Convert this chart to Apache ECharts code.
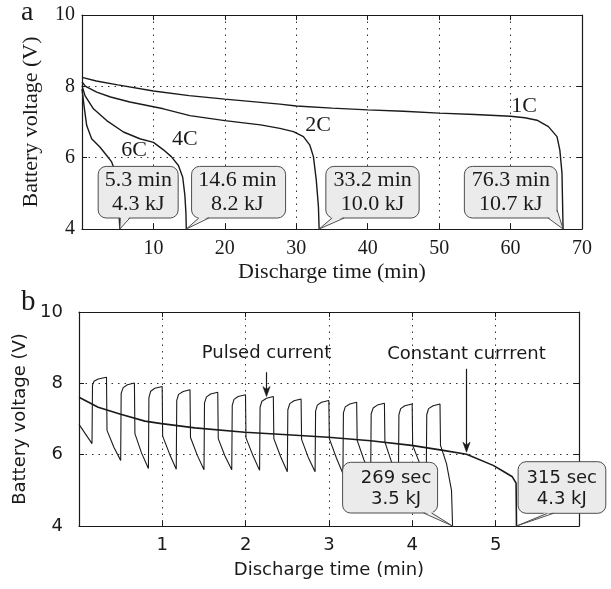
<!DOCTYPE html>
<html>
<head>
<meta charset="utf-8">
<script src="https://cdn.jsdelivr.net/npm/echarts@6/dist/echarts.min.js"></script>
<style>
  html, body { margin: 0; padding: 0; background: #fff; }
  #chart { width: 611px; height: 589px; }
</style>
</head>
<body>
<div id="chart"></div>
<script>
// ---------- Panel a: constant-current discharge at several C-rates ----------
// [time (min), battery voltage (V)]
const curve1C = [[0,8.25],[2,8.15],[5,8.04],[10,7.87],[15,7.74],[20,7.64],[27.7,7.5],[30,7.45],[35,7.39],[40,7.34],[45,7.3],[50,7.25],[55,7.21],[60,7.16],[62,7.12],[63.7,7.05],[65.3,6.87],[66.5,6.59],[66.9,6.21],[67.2,5.56],[67.35,4.0]];
const curve2C = [[0,8.12],[0.5,8.0],[2.06,7.84],[4,7.7],[6.7,7.56],[11.4,7.37],[15.1,7.18],[20,7.04],[25,6.92],[27.7,6.82],[29.6,6.73],[31,6.59],[31.9,6.35],[32.4,6.03],[32.8,5.37],[33.1,4.62],[33.2,4.0]];
const curve4C = [[0,8.02],[0.42,7.74],[1.6,7.37],[3.46,7.04],[5.8,6.72],[8.1,6.53],[10,6.43],[11.4,6.22],[12.5,6.03],[13.5,5.78],[14.1,5.45],[14.4,4.95],[14.55,4.45],[14.6,4.0]];
const curve6C = [[0,7.93],[0.28,7.46],[0.66,6.9],[1.35,6.53],[2.5,6.3],[3.46,6.06],[4.15,5.88],[4.6,5.64],[4.85,5.37],[5.1,4.72],[5.3,4.0]];
const rateNames = ['1C', '2C', '4C', '6C'];
// end of discharge for each rate: [time (min), cut-off voltage (V)]
const endPointsA = [[5.3,4.0],[14.6,4.0],[33.2,4.0],[67.35,4.0]];
const endTextsA = [['5.3 min','4.3 kJ'],['14.6 min','8.2 kJ'],['33.2 min','10.0 kJ'],['76.3 min','10.7 kJ']];
const xTicksA = [0,10,20,30,40,50,60,70];
const yTicks = [4,6,8,10];

// ---------- Panel b: pulsed vs constant current ----------
const constantCurve = [[0,7.61],[0.23,7.33],[0.49,7.14],[0.79,6.94],[0.99,6.87],[1.39,6.75],[1.99,6.63],[2.5,6.56],[2.99,6.49],[3.5,6.39],[3.99,6.26],[4.37,6.12],[4.65,6.01],[4.97,5.7],[5.1,5.52],[5.2,5.38],[5.245,5.2],[5.25,4.0]];
const pulsedCurve = [
  [0,6.85],[0.156,6.31],
  [0.162,7.95],[0.18,8.06],[0.23,8.12],[0.33,8.17],
  [0.336,6.68],[0.42,6.2],[0.5,5.84],
  [0.506,7.72],[0.53,7.88],[0.58,7.96],[0.665,8.01],
  [0.671,6.59],[0.75,6.05],[0.833,5.61],
  [0.839,7.6],[0.86,7.78],[0.91,7.86],[0.998,7.91],
  [1.004,6.52],[1.09,6.0],[1.167,5.59],
  [1.173,7.52],[1.195,7.69],[1.25,7.77],[1.332,7.82],
  [1.338,6.48],[1.42,5.98],[1.5,5.58],
  [1.506,7.45],[1.53,7.62],[1.58,7.7],[1.665,7.75],
  [1.671,6.45],[1.75,5.97],[1.833,5.58],
  [1.839,7.38],[1.86,7.55],[1.91,7.63],[1.998,7.68],
  [2.004,6.47],[2.09,5.96],[2.167,5.56],
  [2.173,7.33],[2.195,7.5],[2.25,7.58],[2.332,7.63],
  [2.338,6.45],[2.42,5.94],[2.5,5.52],
  [2.506,7.26],[2.53,7.43],[2.58,7.51],[2.665,7.56],
  [2.671,6.43],[2.75,5.93],[2.833,5.52],
  [2.839,7.22],[2.86,7.39],[2.91,7.47],[2.998,7.52],
  [3.004,6.45],[3.09,5.9],[3.167,5.47],
  [3.173,7.17],[3.195,7.34],[3.25,7.42],[3.332,7.47],
  [3.338,6.4],[3.42,5.85],[3.5,5.42],
  [3.506,7.14],[3.53,7.31],[3.58,7.39],[3.665,7.44],
  [3.671,6.35],[3.75,5.8],[3.833,5.38],
  [3.839,7.12],[3.86,7.29],[3.91,7.37],[3.998,7.42],
  [4.004,6.26],[4.09,5.75],[4.167,5.35],
  [4.173,7.12],[4.195,7.29],[4.25,7.37],[4.332,7.42],
  [4.338,6.26],[4.41,5.75],[4.47,5.0],[4.483,4.0]
];
const endPointsB = [[4.483,4.0],[5.25,4.0]];
const endTextsB = [['269 sec','3.5 kJ'],['315 sec','4.3 kJ']];
const arrowTipsB = [[2.25,7.63],[4.65,6.07]];
const arrowTextsB = ['Pulsed current', 'Constant currrent'];
const xTicksB = [0,1,2,3,4,5,6];

// ---------- Layout and styling ----------
const SERIF = '"Liberation Serif", "Times New Roman", serif';
const SANS = '"DejaVu Sans", Verdana, sans-serif';
const INK = '#1a1a1a';

// curve label anchors (data units)
const rateLabelPos = [[61.9,7.45],[33.05,6.91],[14.4,6.52],[7.28,6.21]];

// callout geometry in px, relative to the tip: box [x0,y0,x1,y1], tail base points, text centre
const calloutLayoutA = [
  { box: [-21.7,-62.6,58.3,-11], tail: [[0.5,-11],[10,-11]], text: [18.5,-37] },
  { box: [5.3,-62.6,99.3,-11], tail: [[12.6,-11],[22.6,-11]], text: [51,-37] },
  { box: [6.7,-62.6,100,-11], tail: [[13,-11],[25,-11]], text: [53.5,-37] },
  { box: [-98.7,-62.6,-6,-11], tail: [[-15,-11],[-6,-19]], text: [-52.3,-37] }
];
const calloutLayoutB = [
  { box: [-110,-63.7,-15,-13], tail: [[-29,-13],[-21,-13]], text: [-56.5,-37] },
  { box: [1.6,-64.3,89.3,-12.7], tail: [[31,-12.7],[37,-12.7]], text: [45.3,-37] }
];
// arrows: shaft length and text centre above the tip (px)
const arrowLayoutB = [ { len: 24.3, textDy: -43 }, { len: 83.4, textDy: -98 } ];

function calloutRenderer(layouts, texts, fontFamily, fontSize, lineHeight) {
  return function (params, api) {
    const i = params.dataIndex;
    const tip = api.coord([api.value(0), api.value(1)]);
    const L = layouts[i];
    const x0 = tip[0] + L.box[0], y0 = tip[1] + L.box[1];
    const x1 = tip[0] + L.box[2], y1 = tip[1] + L.box[3];
    const a = [tip[0] + L.tail[0][0], tip[1] + L.tail[0][1]];
    const b = [tip[0] + L.tail[1][0], tip[1] + L.tail[1][1]];
    return {
      type: 'group',
      children: [
        { type: 'rect', shape: { x: x0, y: y0, width: x1 - x0, height: y1 - y0, r: 8 },
          style: { fill: '#ebebeb', stroke: '#4d4d4d', lineWidth: 1 } },
        { type: 'polygon', shape: { points: [[a[0], a[1] - 1.5], tip, [b[0] - (b[1] < y1 ? 1.5 : 0), b[1] - 1.5]] },
          style: { fill: '#ebebeb', stroke: null } },
        { type: 'polyline', shape: { points: [a, tip, b] },
          style: { fill: null, stroke: '#4d4d4d', lineWidth: 1 } },
        { type: 'text', style: {
            text: texts[i].join('\n'), x: tip[0] + L.text[0], y: tip[1] + L.text[1],
            align: 'center', verticalAlign: 'middle',
            fontFamily: fontFamily, fontSize: fontSize, lineHeight: lineHeight, fill: INK } }
      ]
    };
  };
}

function arrowRenderer(params, api) {
  const i = params.dataIndex;
  const tip = api.coord([api.value(0), api.value(1)]);
  const L = arrowLayoutB[i];
  return {
    type: 'group',
    children: [
      { type: 'line', shape: { x1: tip[0], y1: tip[1] - L.len, x2: tip[0], y2: tip[1] - 5 },
        style: { stroke: INK, lineWidth: 1.2 } },
      { type: 'polygon', shape: { points: [[tip[0], tip[1]], [tip[0] - 3.6, tip[1] - 10], [tip[0], tip[1] - 7], [tip[0] + 3.6, tip[1] - 10]] },
        style: { fill: INK, stroke: INK, lineWidth: 0.6 } },
      { type: 'text', style: { text: arrowTextsB[i], x: tip[0], y: tip[1] + L.textDy,
          align: 'center', verticalAlign: 'middle', fontFamily: SANS, fontSize: 18, fill: INK } }
    ]
  };
}

function rateLabelRenderer(params, api) {
  const p = api.coord([api.value(0), api.value(1)]);
  return { type: 'text', style: { text: rateNames[params.dataIndex], x: p[0], y: p[1],
    align: 'center', verticalAlign: 'middle', fontFamily: SERIF, fontSize: 22, fill: INK } };
}

const dotted = { show: true, lineStyle: { color: '#333', width: 1, type: [1.5, 5] } };
const tickIn = { show: true, inside: true, length: 5, lineStyle: { color: INK, width: 1 } };
const frame = { show: true, onZero: false, lineStyle: { color: INK, width: 1.2 } };

function xMain(gridIndex, ticks, font, size, name, nameGap, hideLast) {
  return {
    type: 'value', gridIndex: gridIndex, position: 'bottom',
    min: ticks[0], max: ticks[ticks.length - 1], interval: ticks[1] - ticks[0],
    axisLine: frame, axisTick: tickIn, splitLine: dotted,
    axisLabel: { margin: 10, color: INK, fontFamily: font, fontSize: size,
      formatter: v => (v === ticks[0] || (hideLast && v === ticks[ticks.length - 1])) ? '' : String(v) },
    name: name, nameLocation: 'middle', nameGap: nameGap,
    nameTextStyle: { color: INK, fontFamily: font, fontSize: size + (font === SERIF ? 2 : 0) }
  };
}
function xMirror(gridIndex, ticks) {
  return { type: 'value', gridIndex: gridIndex, position: 'top',
    min: ticks[0], max: ticks[ticks.length - 1], interval: ticks[1] - ticks[0],
    axisLine: frame, axisTick: tickIn, axisLabel: { show: false }, splitLine: { show: false } };
}
function yMain(gridIndex, font, size, labelMargin, nameGap) {
  return {
    type: 'value', gridIndex: gridIndex, position: 'left',
    min: yTicks[0], max: yTicks[yTicks.length - 1], interval: yTicks[1] - yTicks[0],
    axisLine: frame, axisTick: tickIn, splitLine: dotted,
    axisLabel: { margin: labelMargin, color: INK, fontFamily: font, fontSize: size },
    name: 'Battery voltage (V)', nameLocation: 'middle', nameGap: nameGap,
    nameTextStyle: { color: INK, fontFamily: font, fontSize: size + (font === SERIF ? 2 : 0) }
  };
}
function yMirror(gridIndex) {
  return { type: 'value', gridIndex: gridIndex, position: 'right',
    min: yTicks[0], max: yTicks[yTicks.length - 1], interval: yTicks[1] - yTicks[0],
    axisLine: frame, axisTick: tickIn, axisLabel: { show: false }, splitLine: { show: false } };
}

function lineSeries(data, xi, yi, width) {
  return { type: 'line', data: data, xAxisIndex: xi, yAxisIndex: yi, showSymbol: false,
    symbol: 'none', smooth: false, clip: true, silent: true, animation: false,
    lineStyle: { color: INK, width: width }, z: 3 };
}

const chart = echarts.init(document.getElementById('chart'), null, { renderer: 'canvas' });
chart.setOption({
  backgroundColor: '#fff',
  animation: false,
  grid: [
    { left: 82, top: 15, width: 500, height: 214 },
    { left: 79, top: 312, width: 500, height: 214 }
  ],
  xAxis: [
    xMain(0, xTicksA, SERIF, 20, 'Discharge time (min)', 32, false),
    xMirror(0, xTicksA),
    xMain(1, xTicksB, SANS, 18, 'Discharge time (min)', 35, true),
    xMirror(1, xTicksB)
  ],
  yAxis: [
    yMain(0, SERIF, 20, 7, 40),
    yMirror(0),
    yMain(1, SANS, 18, 16, 46),
    yMirror(1)
  ],
  graphic: [
    { type: 'text', x: 21, y: 12.5, style: { text: 'a', fontFamily: SERIF, fontSize: 28, fill: INK, verticalAlign: 'middle' } },
    { type: 'text', x: 21, y: 302.5, style: { text: 'b', fontFamily: SERIF, fontSize: 29, fill: INK, verticalAlign: 'middle' } }
  ],
  series: [
    lineSeries(curve1C, 0, 0, 1.4),
    lineSeries(curve2C, 0, 0, 1.4),
    lineSeries(curve4C, 0, 0, 1.4),
    lineSeries(curve6C, 0, 0, 1.4),
    { type: 'custom', xAxisIndex: 0, yAxisIndex: 0, data: rateLabelPos, renderItem: rateLabelRenderer, z: 5, silent: true },
    { type: 'custom', xAxisIndex: 0, yAxisIndex: 0, data: endPointsA, z: 6, silent: true,
      renderItem: calloutRenderer(calloutLayoutA, endTextsA, SERIF, 22, 24) },
    lineSeries(pulsedCurve, 2, 2, 1.1),
    lineSeries(constantCurve, 2, 2, 1.6),
    { type: 'custom', xAxisIndex: 2, yAxisIndex: 2, data: arrowTipsB, renderItem: arrowRenderer, z: 5, silent: true },
    { type: 'custom', xAxisIndex: 2, yAxisIndex: 2, data: endPointsB, z: 6, silent: true,
      renderItem: calloutRenderer(calloutLayoutB, endTextsB, SANS, 18, 21) }
  ]
});
</script>
</body>
</html>
